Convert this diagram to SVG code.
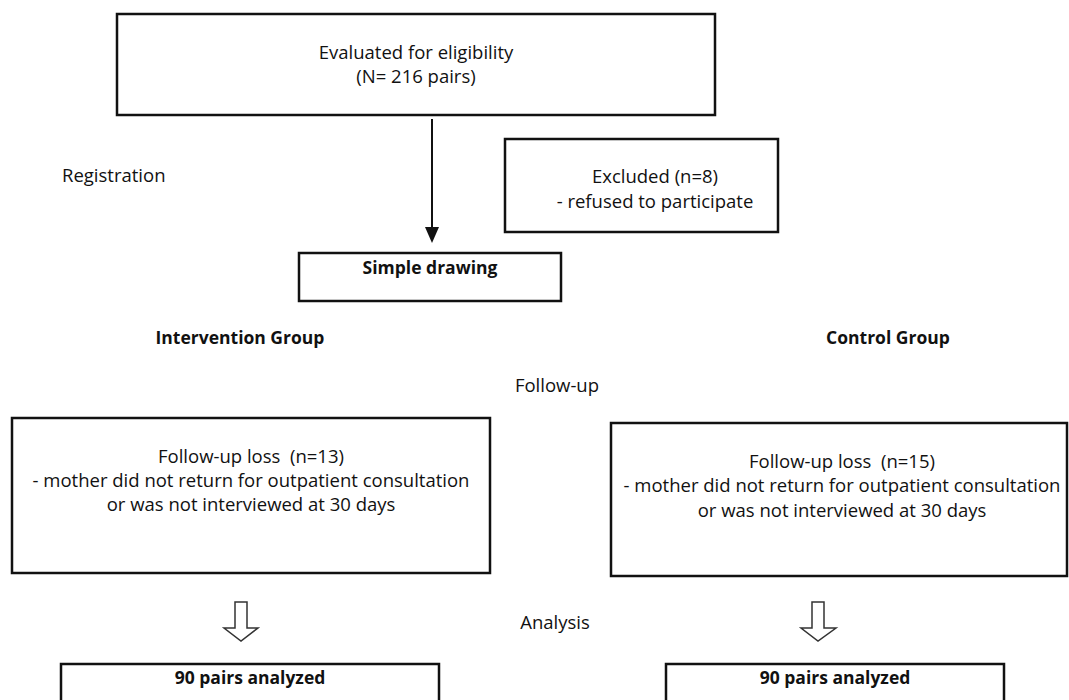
<svg xmlns="http://www.w3.org/2000/svg" width="1069" height="700" viewBox="0 0 1069 700">
<style>
text{font-family:"Open Sans","Noto Sans","DejaVu Sans",sans-serif;font-size:18.5px;fill:#111}
.b{font-weight:bold;font-size:17.5px}
.m{text-anchor:middle}
.box{fill:#fff;stroke:#111;stroke-width:2.5}
.ln{stroke:#111;stroke-width:2;fill:none}
.head{fill:#111}
.hollow{fill:#fff;stroke:#333;stroke-width:1.5;stroke-linejoin:miter}
</style>
<rect width="1069" height="700" fill="#fff"/>
<g id="labels">
<text x="62" y="182">Registration</text>
<text x="240" y="344" class="b m">Intervention Group</text>
<text x="888" y="344" class="b m">Control Group</text>
<text x="557" y="392" class="m">Follow-up</text>
<text x="555" y="629" class="m">Analysis</text>
</g>
<g id="connectors">
<line x1="432" y1="119" x2="432" y2="229" class="ln"/>
<path class="head" d="M425,227 L439,227 L432,243 Z"/>
<path class="hollow" d="M235,602 L247,602 L247,628 L258,628 L241,641 L224,628 L235,628 Z"/>
<path class="hollow" d="M812,602 L824,602 L824,628 L836,628 L818,641 L801,628 L812,628 Z"/>
</g>
<g id="eligibility">
<rect x="117" y="14" width="598" height="101" class="box"/>
<text x="416" y="59" class="m">Evaluated for eligibility</text>
<text x="416" y="83" class="m">(N= 216 pairs)</text>
</g>
<g id="excluded">
<rect x="505" y="139" width="273" height="93" class="box"/>
<text x="655" y="183" class="m">Excluded (n=8)</text>
<text x="655" y="208" class="m">- refused to participate</text>
</g>
<g id="simple-drawing">
<rect x="299" y="253" width="262" height="48" class="box"/>
<text x="430" y="274" class="b m">Simple drawing</text>
</g>
<g id="loss-intervention">
<rect x="12" y="418" width="478" height="155" class="box"/>
<text x="251" y="463" class="m">Follow-up loss&#160; (n=13)</text>
<text x="251" y="487" class="m">- mother did not return for outpatient consultation</text>
<text x="251" y="511" class="m">or was not interviewed at 30 days</text>
</g>
<g id="loss-control">
<rect x="611" y="423" width="456" height="153" class="box"/>
<text x="842" y="468" class="m">Follow-up loss&#160; (n=15)</text>
<text x="842" y="492" class="m">- mother did not return for outpatient consultation</text>
<text x="842" y="517" class="m">or was not interviewed at 30 days</text>
</g>
<g id="analyzed-intervention">
<rect x="61" y="664" width="378" height="50" class="box"/>
<text x="250" y="684" class="b m">90 pairs analyzed</text>
</g>
<g id="analyzed-control">
<rect x="666" y="664" width="338" height="50" class="box"/>
<text x="835" y="684" class="b m">90 pairs analyzed</text>
</g>
</svg>
